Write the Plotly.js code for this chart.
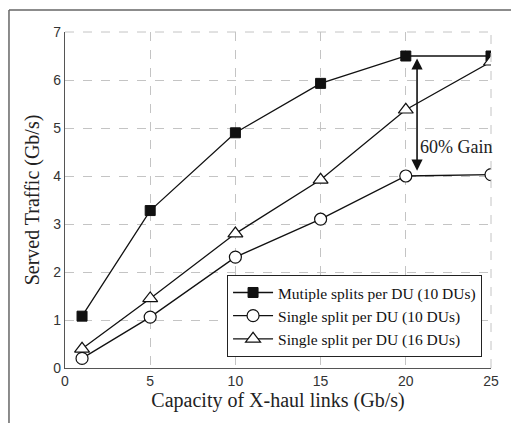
<!DOCTYPE html>
<html>
<head>
<meta charset="utf-8">
<script src="https://cdn.plot.ly/plotly-3.0.1.min.js"></script>
<style>html,body{margin:0;padding:0;background:#fff;}#chart{width:511px;height:423px;}</style>
</head>
<body>
<div id="chart"></div>
<script>
const capacity = [1, 5, 10, 15, 20, 25];
const multiSplit10 = [1.08, 3.28, 4.9, 5.93, 6.5, 6.5];
const singleSplit10 = [0.2, 1.06, 2.31, 3.1, 4.0, 4.03];
const singleSplit16 = [0.4, 1.45, 2.8, 3.92, 5.38, 6.38];
const seriesNames = ["Mutiple splits per DU (10 DUs)", "Single split per DU (10 DUs)", "Single split per DU (16 DUs)"];
const xTicks = [0, 5, 10, 15, 20, 25];
const yTicks = [0, 1, 2, 3, 4, 5, 6, 7];
const gainLabel = "60% Gain";

const serif = "Liberation Serif, DejaVu Serif, serif";
const sans = "Liberation Sans, Arial, sans-serif";
const lineStyle = {color: "#111", width: 1.3};

const traces = [
  {x: capacity, y: multiSplit10, name: seriesNames[0], mode: "lines+markers", line: lineStyle,
   marker: {symbol: "square", size: 10, color: "#111", line: {color: "#111", width: 1}}},
  {x: capacity, y: singleSplit10, name: seriesNames[1], mode: "lines+markers", line: lineStyle,
   marker: {symbol: "circle", size: 12, color: "#fff", line: {color: "#111", width: 1.2}}},
  {x: capacity, y: singleSplit16, name: seriesNames[2], mode: "lines+markers", line: lineStyle,
   marker: {symbol: "triangle-up", size: 13, color: "#fff", line: {color: "#111", width: 1.2}}}
];

const layout = {
  width: 511, height: 423,
  margin: {l: 65, r: 20, t: 32, b: 55},
  paper_bgcolor: "#fff", plot_bgcolor: "#fff",
  showlegend: true,
  xaxis: {
    range: [0, 25], tickvals: xTicks, ticktext: xTicks.map(String),
    showgrid: true, gridcolor: "#c4c4c4", griddash: "dash", gridwidth: 1,
    zeroline: false, showline: true, linecolor: "#555", linewidth: 1.2, mirror: false,
    ticks: "", tickfont: {family: sans, size: 14, color: "#333"},
    title: {text: "Capacity of X-haul links (Gb/s)", font: {family: serif, size: 20, color: "#222"}, standoff: 2}
  },
  yaxis: {
    range: [0, 7], tickvals: yTicks, ticktext: yTicks.map(String),
    showgrid: true, gridcolor: "#c4c4c4", griddash: "dash", gridwidth: 1,
    zeroline: false, showline: true, linecolor: "#555", linewidth: 1.2, mirror: false,
    ticks: "", tickfont: {family: sans, size: 14, color: "#333"},
    title: {text: "Served Traffic (Gb/s)", font: {family: serif, size: 20, color: "#222"}, standoff: 8}
  },
  legend: {
    x: 0.979, y: 0.033, xanchor: "right", yanchor: "bottom",
    bgcolor: "#fff", bordercolor: "#222", borderwidth: 1,
    font: {family: serif, size: 15.5, color: "#111"},
    tracegroupgap: 0, itemwidth: 40
  },
  shapes: [
    {type: "line", xref: "paper", yref: "paper", x0: -0.1315, x1: 1.2, y0: 1.0655, y1: 1.0655, line: {color: "#666", width: 1.5}},
    {type: "line", xref: "paper", yref: "paper", x0: -0.1315, x1: -0.1315, y0: 1.0655, y1: -0.3, line: {color: "#666", width: 1.5}},
    {type: "line", xref: "paper", yref: "paper", x0: 0, x1: 1, y0: 1, y1: 1, line: {color: "#c4c4c4", width: 1, dash: "dash"}},
    {type: "line", xref: "paper", yref: "paper", x0: 1, x1: 1, y0: 0, y1: 1, line: {color: "#c4c4c4", width: 1, dash: "dash"}}
  ],
  annotations: [
    {x: 20.66, y: 6.45, ax: 20.66, ay: 4.08, xref: "x", yref: "y", axref: "x", ayref: "y",
     showarrow: true, arrowhead: 2, startarrowhead: 2, arrowside: "end+start", arrowsize: 1.4, arrowwidth: 1.6, arrowcolor: "#111", text: ""},
    {x: 20.72, y: 4.6, xref: "x", yref: "y", text: gainLabel, showarrow: false, xanchor: "left", yanchor: "middle",
     font: {family: serif, size: 18, color: "#222"}}
  ]
};

Plotly.newPlot("chart", traces, layout, {displayModeBar: false, staticPlot: true});
</script>
</body>
</html>
